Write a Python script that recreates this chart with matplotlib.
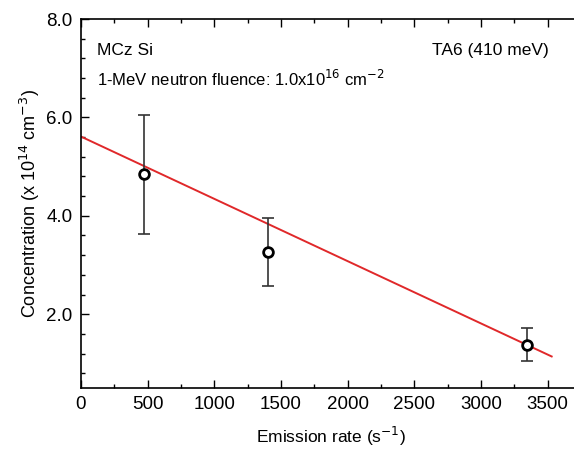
import matplotlib
matplotlib.use('Agg')
import matplotlib.pyplot as plt
from matplotlib.ticker import MultipleLocator, FormatStrFormatter

plt.rcParams['font.family'] = ['Liberation Sans', 'DejaVu Sans']

# measured TA6 concentrations vs emission rate
rate = [472, 1402, 3343]
conc = [4.85, 3.27, 1.38]
err_lo = [1.22, 0.69, 0.34]
err_hi = [1.19, 0.68, 0.33]

# linear fit
fit_x = [0, 3530]
fit_intercept = 5.61
fit_slope = -1.266e-3

fig = plt.figure(figsize=(5.74, 4.5), dpi=100)
ax = fig.add_axes([81 / 574, 62 / 450, 500 / 574, 369 / 450])

fit_y = [fit_intercept + fit_slope * x for x in fit_x]
ax.plot(fit_x, fit_y, color='#e0282a', lw=1.4, zorder=2)

ax.errorbar(rate, conc, yerr=[err_lo, err_hi], fmt='none', ecolor='#333333',
            elinewidth=1.2, capsize=4, capthick=1.2, zorder=3)
ax.plot(rate, conc, 'o', ms=7, mfc='white', mec='black', mew=2, zorder=4)

ax.set_xlim(0, 3750)
ax.set_ylim(0.5, 8.0)
ax.xaxis.set_major_locator(MultipleLocator(500))
ax.xaxis.set_minor_locator(MultipleLocator(250))
ax.yaxis.set_major_locator(MultipleLocator(2))
ax.yaxis.set_minor_locator(MultipleLocator(0.4))
ax.yaxis.set_major_formatter(FormatStrFormatter('%.1f'))
ax.tick_params(which='both', direction='in', top=True, right=False,
               labelsize=13.5, width=1, pad=6)
ax.tick_params(which='major', length=6)
ax.tick_params(which='minor', length=3)
for s in ax.spines.values():
    s.set_linewidth(1.2)

ax.set_xlabel('Emission rate (s$^{-1}$)', fontsize=12.5, labelpad=8)
ax.set_ylabel('Concentration (x 10$^{14}$ cm$^{-3}$)', fontsize=13, labelpad=3)

ax.text(120, 7.35, 'MCz Si', fontsize=12.5, va='center')
ax.text(120, 6.78, '1-MeV neutron fluence: 1.0x10$^{16}$ cm$^{-2}$',
        fontsize=12, va='center')
ax.text(3510, 7.35, 'TA6 (410 meV)', fontsize=12.5, va='center', ha='right')

fig.savefig('out.png', dpi=100)
